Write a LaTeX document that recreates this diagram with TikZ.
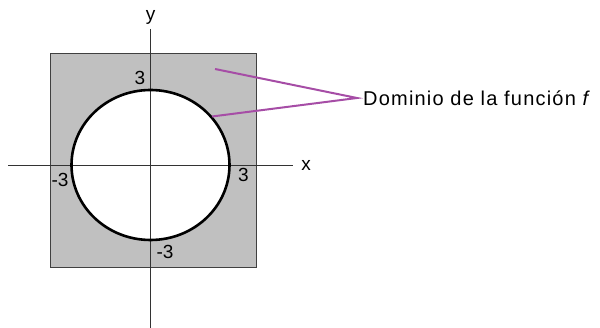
\documentclass[tikz,border=0pt]{standalone}
\usepackage{fontspec}
\setmainfont{Liberation Sans}
\newfontfamily\spacedfont[LetterSpace=6]{Liberation Sans}
\definecolor{shade}{RGB}{192,192,192}
\definecolor{pointer}{RGB}{166,77,166}
\begin{document}
\begin{tikzpicture}[x=1pt,y=1pt,
  lbl/.style={font=\fontsize{19}{21}\selectfont, inner sep=0pt},
  axisline/.style={line width=0.9pt, black!80},
  ptr/.style={line width=2pt, pointer}]
\useasboundingbox (0,0) rectangle (600,-328);
% shaded domain
\path[fill=shade, draw=black!75, line width=1pt] (50.7,-54) rectangle (256.7,-268);
% excluded disc
\path[fill=white] (150.5,-165) ellipse [x radius=79, y radius=75];
% axes
\coordinate (xl) at (8,-165);
\coordinate (xr) at (293,-165);
\coordinate (yt) at (150.3,-29);
\coordinate (yb) at (150.3,-328);
\draw[axisline] (xl) -- (xr);
\draw[axisline] (yt) -- (yb);
% circle boundary
\draw[line width=2.6pt] (150.5,-165) ellipse [x radius=79, y radius=75];
% labels
\node[lbl] (ylab) at (150.5,-17) {y};
\node[lbl] (xlab) at (306,-165) {x};
\node[lbl] (t3) at (140,-78) {3};
\node[lbl] (l3) at (60,-180) {-3};
\node[lbl] (r3) at (243.5,-175) {3};
\node[lbl] (b3) at (165,-252) {-3};
% pointer
\node[lbl, anchor=west, font=\spacedfont\fontsize{20}{22}\selectfont] (dom) at (363,-98) {Dominio de la función \textit{f}};
\coordinate (p1) at (215,-69);
\coordinate (p2) at (212,-116.5);
\coordinate (tip) at (357,-98);
\draw[ptr] (p1) -- (tip) -- (p2);
\end{tikzpicture}
\end{document}
